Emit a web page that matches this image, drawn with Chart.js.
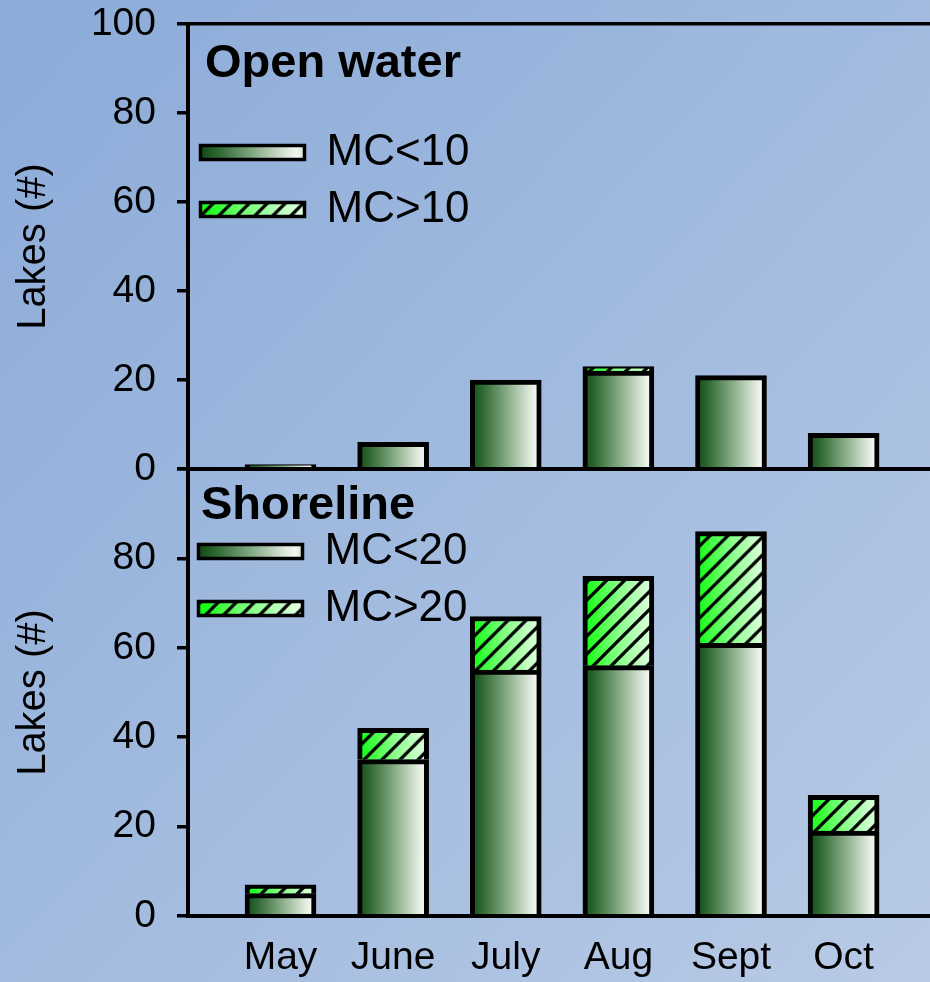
<!DOCTYPE html>
<html>
<head>
<meta charset="utf-8">
<script src="https://cdn.jsdelivr.net/npm/chart.js@4"></script>
<style>
  html, body { margin: 0; padding: 0; }
  #wrap { position: relative; width: 930px; height: 982px; overflow: hidden;
          background: linear-gradient(to bottom right, #8babd8, #b8cae6); }
  canvas { position: absolute; left: 0; }
  #bottomChart { top: 460px; }
  #topChart { top: 0; }
</style>
</head>
<body>
<div id="wrap">
  <canvas id="bottomChart" width="930" height="522"></canvas>
  <canvas id="topChart" width="930" height="490"></canvas>
</div>
<script>
// data
const months = ['May', 'June', 'July', 'Aug', 'Sept', 'Oct'];
const openLow = [1, 6, 20, 22, 21, 8];     // MC<10
const openHigh = [0, 0, 0, 1, 0, 0];       // MC>10
const shoreLow = [5, 35, 55, 56, 61, 19];  // MC<20
const shoreHigh = [2, 7, 12, 20, 25, 8];   // MC>20

const FONT = '"Liberation Sans", Arial, sans-serif';
const BAR_W = 71;

function lowFill(ctx, left, w) {
    const g = ctx.createLinearGradient(left, 0, left + w, 0);
    g.addColorStop(0, '#124a14');
    g.addColorStop(0.15, '#2a642e');
    g.addColorStop(0.5, '#82a882');
    g.addColorStop(0.85, '#e2ebdf');
    g.addColorStop(0.93, '#f3f7f1');
    g.addColorStop(1, '#d6e2d3');
    return g;
}

function highFill(ctx, left, w) {
    const P = 18;
    const tile = document.createElement('canvas');
    tile.width = Math.round(w);
    tile.height = P;
    const t = tile.getContext('2d');
    const g = t.createLinearGradient(0, 0, w, 0);
    g.addColorStop(0, '#0aff0a');
    g.addColorStop(0.5, '#88ff88');
    g.addColorStop(1, '#e8ffe8');
    t.fillStyle = g;
    t.fillRect(0, 0, w, P);
    t.strokeStyle = '#000';
    t.lineWidth = 3.3;
    for (let c = 0; c <= w + 2 * P; c += P) {
        t.beginPath();
        t.moveTo(-3, c + 3);
        t.lineTo(w + 3, c - w - 3);
        t.stroke();
    }
    const p = ctx.createPattern(tile, 'repeat');
    p.setTransform(new DOMMatrix([1, 0, 0, 1, left, 0]));
    return p;
}

function barLeft(chart, i) {
    return chart.scales.x.getPixelForValue(i + 1) - BAR_W / 2;
}

// moves the legend into place and writes the panel name
const panelLayout = {
    id: 'panelLayout',
    afterLayout(chart, args, o) {
        chart.legend.left = o.boxLeft - o.pad;
        chart.legend.top = o.boxMid - o.font / 2 - o.pad;
    },
    afterDraw(chart, args, o) {
        const ctx = chart.ctx;
        ctx.save();
        ctx.font = 'bold 47px ' + FONT;
        ctx.fillStyle = '#000';
        ctx.textBaseline = 'alphabetic';
        ctx.textAlign = 'left';
        ctx.fillText(o.title, o.titleX, o.titleY);
        ctx.restore();
    }
};

function makePanel(id, p) {
    const ctx = document.getElementById(id).getContext('2d');
    return new Chart(ctx, {
        type: 'bar',
        data: {
            datasets: [{
                label: p.labels[0],
                data: p.low.map((v, i) => ({ x: i + 1, y: v })),
                backgroundColor: (c) => c.dataIndex === undefined ? '#5a8a5a'
                    : lowFill(c.chart.ctx, barLeft(c.chart, c.dataIndex), BAR_W)
            }, {
                label: p.labels[1],
                data: p.high.map((v, i) => ({ x: i + 1, y: v })),
                backgroundColor: (c) => c.dataIndex === undefined ? '#66ff66'
                    : highFill(c.chart.ctx, barLeft(c.chart, c.dataIndex), BAR_W)
            }]
        },
        options: {
            responsive: false,
            animation: false,
            layout: { autoPadding: false, padding: { top: p.padTop, left: 0, right: 0, bottom: 0 } },
            datasets: {
                bar: { barThickness: BAR_W, borderColor: '#000', borderWidth: 5, borderSkipped: 'start' }
            },
            scales: {
                x: {
                    type: 'linear',
                    stacked: true,
                    offset: false,
                    min: 0.1785,
                    max: 6.767,
                    afterFit: (s) => {
                        s.height = p.xHeight;
                        s.paddingLeft = 0;
                        s.paddingRight = 0;
                    },
                    afterBuildTicks: (s) => { s.ticks = months.map((m, i) => ({ value: i + 1 })); },
                    ticks: {
                        display: p.showMonths,
                        autoSkip: false,
                        maxRotation: 0,
                        color: '#000',
                        padding: 19,
                        font: { family: FONT, size: 39 },
                        callback: (v) => months[v - 1]
                    },
                    grid: { display: false, drawTicks: false },
                    border: { color: '#000', width: 4, z: 1 }
                },
                y: {
                    stacked: true,
                    min: 0,
                    max: 100,
                    afterFit: (s) => {
                        s.width = 188;
                        s.paddingTop = 0;
                        s.paddingBottom = 0;
                    },
                    ticks: {
                        stepSize: 20,
                        color: '#000',
                        padding: 21,
                        font: { family: FONT, size: 39 },
                        callback: (v) => (p.hideTop && v === 100) ? '' : v
                    },
                    grid: {
                        drawOnChartArea: true,
                        color: (c) => (!p.hideTop && c.tick && c.tick.value === 100) ? '#000' : 'rgba(0,0,0,0)',
                        lineWidth: 3.5,
                        tickColor: '#000',
                        tickWidth: 3.5,
                        tickLength: 11
                    },
                    border: { color: '#000', width: 4, z: 1 },
                    title: {
                        display: true,
                        text: 'Lakes (#)',
                        color: '#000',
                        font: { family: FONT, size: 40 },
                        padding: { top: 10, bottom: 0 }
                    }
                }
            },
            plugins: {
                tooltip: { enabled: false },
                legend: {
                    position: 'chartArea',
                    align: 'start',
                    labels: {
                        boxWidth: 104,
                        boxHeight: 14,
                        padding: 13,
                        color: '#000',
                        font: { family: FONT, size: 44 },
                        generateLabels: (chart) => [
                            { text: p.labels[0], fillStyle: lowFill(chart.ctx, p.boxLeft, 104), strokeStyle: '#000', lineWidth: 3.5, datasetIndex: 0 },
                            { text: p.labels[1], fillStyle: highFill(chart.ctx, p.boxLeft, 104), strokeStyle: '#000', lineWidth: 3.5, datasetIndex: 1 }
                        ]
                    }
                },
                panelLayout: {
                    boxLeft: p.boxLeft, boxMid: p.boxMid, pad: 13, font: 44,
                    title: p.title, titleX: p.titleX, titleY: p.titleY
                }
            }
        },
        plugins: [panelLayout]
    });
}

makePanel('topChart', {
    title: 'Open water', titleX: 205, titleY: 77,
    labels: ['MC<10', 'MC>10'],
    low: openLow, high: openHigh,
    padTop: 24, xHeight: 21, showMonths: false, hideTop: false,
    boxLeft: 200.5, boxMid: 152.5
});

makePanel('bottomChart', {
    title: 'Shoreline', titleX: 201, titleY: 59,
    labels: ['MC<20', 'MC>20'],
    low: shoreLow, high: shoreHigh,
    padTop: 9, xHeight: 66, showMonths: true, hideTop: true,
    boxLeft: 198.5, boxMid: 91.5
});
</script>
</body>
</html>
